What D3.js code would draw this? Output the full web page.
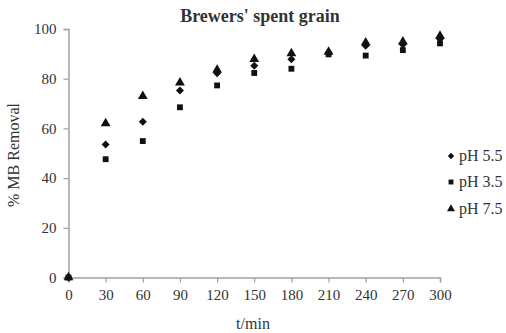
<!DOCTYPE html>
<html><head><meta charset="utf-8">
<script src="https://cdn.jsdelivr.net/npm/d3@7"></script>
<style>body{margin:0;background:#fff}svg{display:block}text{font-family:"Liberation Serif","Times New Roman",serif;fill:#333}</style>
</head><body><svg id="c" width="506" height="333"></svg>
<script>
const times = [0,30,60,90,120,150,180,210,240,270,300];
const pH55 = [0,53.5,62.7,75.3,82.2,85.2,87.8,90.4,93.3,93.8,96.0];
const pH35 = [0,47.6,54.9,68.5,77.3,82.3,84.0,89.8,89.3,91.5,94.2];
const pH75 = [0,62.0,73.0,78.4,83.5,87.9,90.2,90.8,94.5,94.9,97.2];
const xTicks = [0,30,60,90,120,150,180,210,240,270,300];
const yTicks = [0,20,40,60,80,100];
const seriesNames = ["pH 5.5","pH 3.5","pH 7.5"];

const svg = d3.select("#c");
const x = d3.scaleLinear().domain([0,300]).range([68.5,440]);
const y = d3.scaleLinear().domain([0,100]).range([277.5,29]);
const axisCol = "#a0a0a0";

const gx = svg.append("g").attr("transform","translate(0,"+y(0)+")")
  .call(d3.axisBottom(x).tickValues(xTicks).tickSizeOuter(0).tickSize(5).tickPadding(7));
const gy = svg.append("g").attr("transform","translate("+x(0)+",0)")
  .call(d3.axisLeft(y).tickValues(yTicks).tickSizeOuter(0).tickSize(5).tickPadding(7));
[gx,gy].forEach(g=>{
  g.select(".domain").attr("stroke",axisCol).attr("stroke-width",1.5);
  g.selectAll(".tick line").attr("stroke",axisCol).attr("stroke-width",1.2);
  g.selectAll(".tick text").style("font-size","15px").attr("fill","#333").style("font-family","'Liberation Serif',serif");
});

const diamond = (s)=>`M0,${-s}L${s},0L0,${s}L${-s},0Z`;
const shapes = [
  () => diamond(4),
  () => d3.symbol().type(d3.symbolSquare).size(34)(),
  () => d3.symbol().type(d3.symbolTriangle).size(42)()
];
const data = [pH55,pH35,pH75];
data.forEach((vals,si)=>{
  svg.append("g").selectAll("path").data(vals).join("path")
    .attr("d",shapes[si]())
    .attr("transform",(d,i)=>`translate(${x(times[i])},${y(d)})`)
    .attr("fill","#111");
});

svg.append("text").attr("x",260).attr("y",22).attr("text-anchor","middle")
  .style("font-size","18px").style("font-weight","bold").text("Brewers' spent grain");
svg.append("text").attr("transform","translate(19,155) rotate(-90)").attr("text-anchor","middle")
  .style("font-size","16px").text("% MB Removal");
svg.append("text").attr("x",253).attr("y",329).attr("text-anchor","middle")
  .style("font-size","16px").text("t/min");

const legY = [156,182,209];
seriesNames.forEach((n,i)=>{
  svg.append("path").attr("d",i===0?diamond(3.2):d3.symbol().type(i===1?d3.symbolSquare:d3.symbolTriangle).size(i===1?24:28)())
    .attr("transform",`translate(451,${legY[i]})`).attr("fill","#111");
  svg.append("text").attr("x",459).attr("y",legY[i]+5).style("font-size","16px").text(n);
});
</script></body></html>
